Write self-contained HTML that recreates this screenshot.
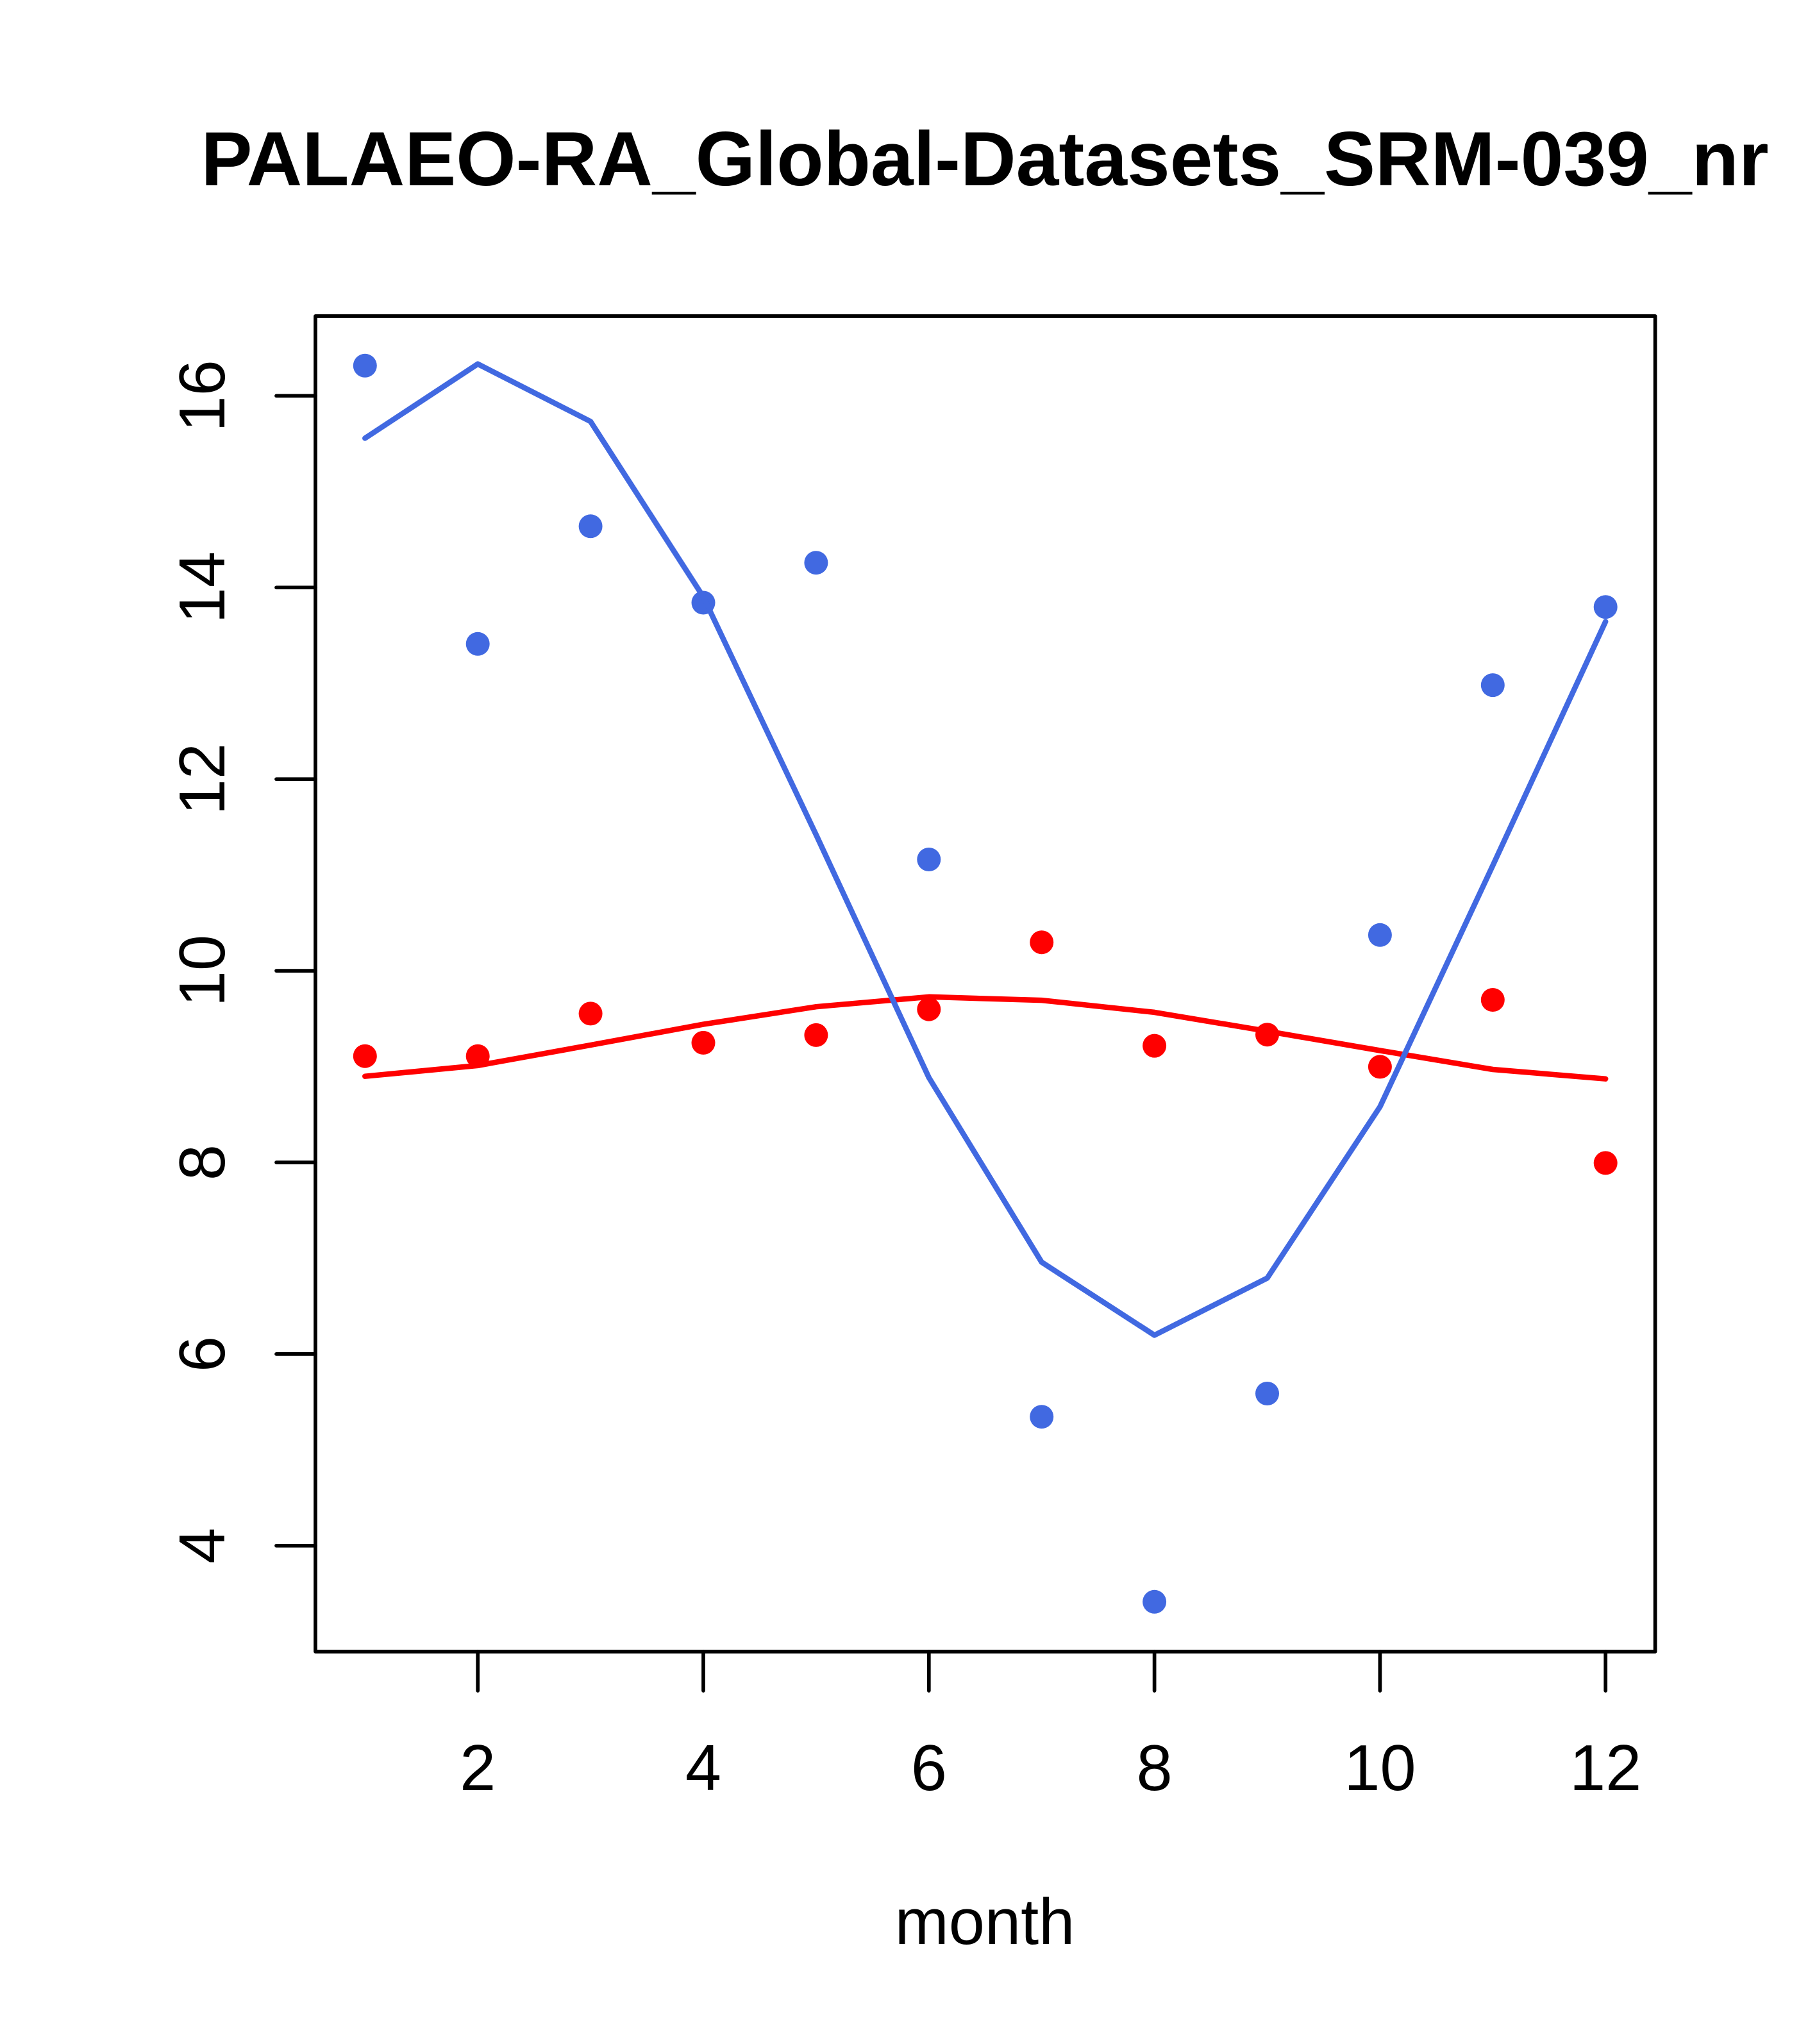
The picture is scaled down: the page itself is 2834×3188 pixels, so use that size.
<!DOCTYPE html>
<html>
<head>
<meta charset="utf-8">
<style>
  html, body { margin: 0; padding: 0; background: #ffffff; }
  svg { display: block; }
  text { font-family: "Liberation Sans", Arial, sans-serif; fill: #000; }
</style>
</head>
<body>
<svg xmlns="http://www.w3.org/2000/svg" width="2834" height="3188" viewBox="0 0 2834 3188">
  <rect x="0" y="0" width="2834" height="3188" fill="#ffffff"/>

  <!-- Title -->
  <text x="1536" y="289" font-size="120" font-weight="bold" text-anchor="middle">PALAEO-RA_Global-Datasets_SRM-039_nr</text>

  <!-- Plot box -->
  <rect x="492" y="493" width="2089.6" height="2083" fill="none" stroke="#000" stroke-width="5.7" stroke-linejoin="round"/>

  <!-- Y ticks -->
  <g stroke="#000" stroke-width="5.7" stroke-linecap="round">
    <line x1="431" y1="617.4" x2="492" y2="617.4"/>
    <line x1="431" y1="916.3" x2="492" y2="916.3"/>
    <line x1="431" y1="1215.2" x2="492" y2="1215.2"/>
    <line x1="431" y1="1514.1" x2="492" y2="1514.1"/>
    <line x1="431" y1="1813.0" x2="492" y2="1813.0"/>
    <line x1="431" y1="2111.9" x2="492" y2="2111.9"/>
    <line x1="431" y1="2410.8" x2="492" y2="2410.8"/>
  </g>
  <!-- X ticks -->
  <g stroke="#000" stroke-width="5.7" stroke-linecap="round">
    <line x1="745.2" y1="2576" x2="745.2" y2="2637"/>
    <line x1="1097" y1="2576" x2="1097" y2="2637"/>
    <line x1="1448.8" y1="2576" x2="1448.8" y2="2637"/>
    <line x1="1800.6" y1="2576" x2="1800.6" y2="2637"/>
    <line x1="2152.4" y1="2576" x2="2152.4" y2="2637"/>
    <line x1="2504.2" y1="2576" x2="2504.2" y2="2637"/>
  </g>

  <!-- Y tick labels -->
  <g font-size="101" text-anchor="middle">
    <text transform="translate(350,617.4) rotate(-90)">16</text>
    <text transform="translate(350,916.3) rotate(-90)">14</text>
    <text transform="translate(350,1215.2) rotate(-90)">12</text>
    <text transform="translate(350,1514.1) rotate(-90)">10</text>
    <text transform="translate(350,1813.0) rotate(-90)">8</text>
    <text transform="translate(350,2111.9) rotate(-90)">6</text>
    <text transform="translate(350,2410.8) rotate(-90)">4</text>
  </g>

  <!-- X tick labels -->
  <g font-size="101" text-anchor="middle">
    <text x="745.2" y="2792">2</text>
    <text x="1097" y="2792">4</text>
    <text x="1448.8" y="2792">6</text>
    <text x="1800.6" y="2792">8</text>
    <text x="2152.4" y="2792">10</text>
    <text x="2504.2" y="2792">12</text>
  </g>

  <!-- X axis label -->
  <text x="1536" y="3032" font-size="101" text-anchor="middle">month</text>

  <!-- Blue points -->
  <g fill="#4169E1">
    <circle cx="569.3" cy="570.3" r="18.5"/>
    <circle cx="745.2" cy="1004.3" r="18.5"/>
    <circle cx="921.1" cy="820.8" r="18.5"/>
    <circle cx="1097" cy="940" r="18.5"/>
    <circle cx="1272.9" cy="877.7" r="18.5"/>
    <circle cx="1448.8" cy="1340.5" r="18.5"/>
    <circle cx="1624.7" cy="2209.7" r="18.5"/>
    <circle cx="1800.6" cy="2498.3" r="18.5"/>
    <circle cx="1976.5" cy="2173.5" r="18.5"/>
    <circle cx="2152.4" cy="1458.3" r="18.5"/>
    <circle cx="2328.3" cy="1068.6" r="18.5"/>
    <circle cx="2504.2" cy="946.7" r="18.5"/>
  </g>

  <!-- Red points -->
  <g fill="#FF0000">
    <circle cx="569.3" cy="1647.2" r="18.5"/>
    <circle cx="745.2" cy="1647.2" r="18.5"/>
    <circle cx="921.1" cy="1580.9" r="18.5"/>
    <circle cx="1097" cy="1626.4" r="18.5"/>
    <circle cx="1272.9" cy="1614.4" r="18.5"/>
    <circle cx="1448.8" cy="1574.2" r="18.5"/>
    <circle cx="1624.7" cy="1469.7" r="18.5"/>
    <circle cx="1800.6" cy="1631.1" r="18.5"/>
    <circle cx="1976.5" cy="1613.7" r="18.5"/>
    <circle cx="2152.4" cy="1663.9" r="18.5"/>
    <circle cx="2328.3" cy="1559.5" r="18.5"/>
    <circle cx="2504.2" cy="1813.9" r="18.5"/>
  </g>

  <!-- Red line -->
  <polyline fill="none" stroke="#FF0000" stroke-width="8.5" stroke-linecap="round" stroke-linejoin="round"
    points="569.3,1678.7 745.2,1661.9 921.1,1630 1097,1597.6 1272.9,1570.2 1448.8,1554.8 1624.7,1560.1 1800.6,1578.9 1976.5,1608.3 2152.4,1638.5 2328.3,1668 2504.2,1682.7"/>

  <!-- Blue line -->
  <polyline fill="none" stroke="#4169E1" stroke-width="8.5" stroke-linecap="round" stroke-linejoin="round"
    points="569.3,683.5 745.2,567.7 921.1,657.4 1097,931 1272.9,1302 1448.8,1680.7 1624.7,1968.6 1800.6,2082.5 1976.5,1993.4 2152.4,1726.2 2328.3,1350 2504.2,969.5"/>
</svg>
</body>
</html>
